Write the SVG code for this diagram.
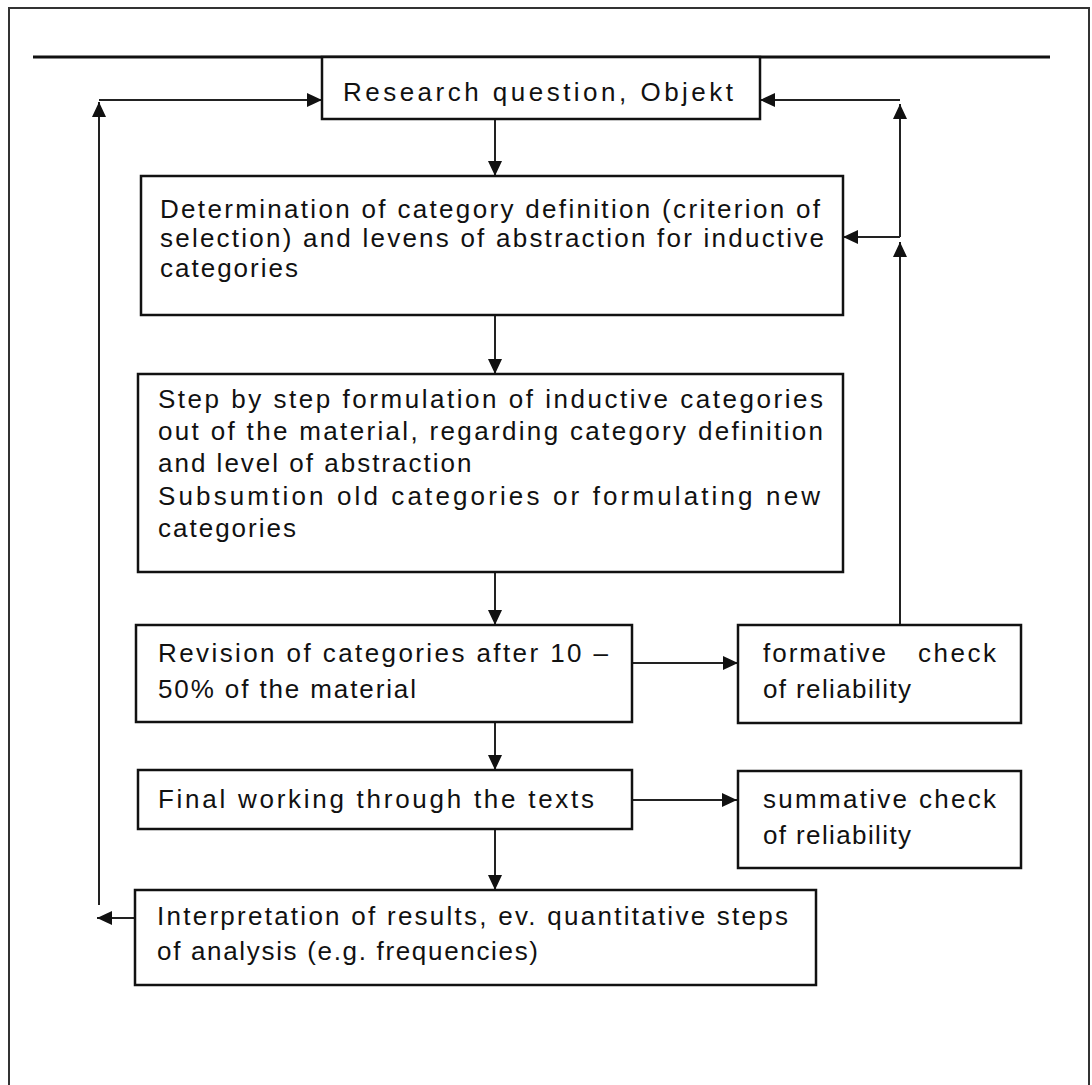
<svg xmlns="http://www.w3.org/2000/svg" width="1092" height="1085" viewBox="0 0 1092 1085">
  <defs>
    <style>
      .frame { fill: none; stroke: #333; stroke-width: 2; }
      .rule { stroke: #111; stroke-width: 3; }
      .box { fill: #fff; stroke: #111; stroke-width: 2.5; }
      .arrow { fill: none; stroke: #222; stroke-width: 2; marker-end: url(#head); }
      .label { font-family: "Liberation Sans", Arial, sans-serif; font-size: 26px; letter-spacing: 2px; fill: #111; }
    </style>
    <marker id="head" markerUnits="userSpaceOnUse" markerWidth="16" markerHeight="14" refX="15" refY="7" orient="auto">
      <path d="M0,0 L15,7 L0,14 z" fill="#111"/>
    </marker>
  </defs>

  <rect width="1092" height="1085" fill="#fff"/>

  <!-- page frame, open at the bottom -->
  <path class="frame" d="M9,1086 V8 H1089 V1086"/>
  <!-- heading rule -->
  <line class="rule" x1="33" y1="57" x2="1050" y2="57"/>

  <g id="connectors">
    <!-- main downward flow -->
    <line class="arrow" x1="495" y1="119" x2="495" y2="176"/>
    <line class="arrow" x1="495" y1="315" x2="495" y2="374"/>
    <line class="arrow" x1="495" y1="572" x2="495" y2="625"/>
    <line class="arrow" x1="495" y1="722" x2="495" y2="770"/>
    <line class="arrow" x1="495" y1="829" x2="495" y2="890"/>
    <!-- checks -->
    <line class="arrow" x1="632" y1="663" x2="738" y2="663"/>
    <line class="arrow" x1="632" y1="800" x2="737" y2="800"/>
    <!-- right feedback loop -->
    <line class="arrow" x1="900" y1="625" x2="900" y2="242"/>
    <line class="arrow" x1="900" y1="237" x2="900" y2="104"/>
    <line class="arrow" x1="900" y1="237" x2="843" y2="237"/>
    <line class="arrow" x1="900" y1="100" x2="760" y2="100"/>
    <!-- left feedback loop -->
    <line class="arrow" x1="135" y1="918" x2="97" y2="918"/>
    <line class="arrow" x1="99" y1="905" x2="99" y2="102"/>
    <line class="arrow" x1="99" y1="100" x2="322" y2="100"/>
  </g>

  <g id="research-question">
    <rect class="box" x="322" y="57" width="438" height="62"/>
    <text class="label" x="343" y="101" textLength="392" lengthAdjust="spacing">Research question, Objekt</text>
  </g>

  <g id="category-definition">
    <rect class="box" x="141" y="176" width="702" height="139"/>
    <text class="label" x="160" y="218" textLength="662" lengthAdjust="spacing">Determination of category definition (criterion of</text>
    <text class="label" x="160" y="247" textLength="666" lengthAdjust="spacing">selection) and levens of abstraction for inductive</text>
    <text class="label" x="160" y="277">categories</text>
  </g>

  <g id="formulation">
    <rect class="box" x="138" y="374" width="705" height="198"/>
    <text class="label" x="158" y="408" textLength="667" lengthAdjust="spacing">Step by step formulation of inductive categories</text>
    <text class="label" x="158" y="440" textLength="667" lengthAdjust="spacing">out of the material, regarding category definition</text>
    <text class="label" x="158" y="472">and level of abstraction</text>
    <text class="label" x="158" y="505" textLength="664" lengthAdjust="spacing">Subsumtion old categories or formulating new</text>
    <text class="label" x="158" y="537">categories</text>
  </g>

  <g id="revision">
    <rect class="box" x="136" y="625" width="496" height="97"/>
    <text class="label" x="158" y="662" textLength="452" lengthAdjust="spacing">Revision of categories after 10 –</text>
    <text class="label" x="158" y="698" textLength="260" lengthAdjust="spacing">50% of the material</text>
  </g>

  <g id="formative-check">
    <rect class="box" x="738" y="625" width="283" height="98"/>
    <text class="label" x="763" y="662">formative</text>
    <text class="label" x="998" y="662" text-anchor="end" letter-spacing="0" textLength="80" lengthAdjust="spacing">check</text>
    <text class="label" x="763" y="698" textLength="150" lengthAdjust="spacing">of reliability</text>
  </g>

  <g id="final-working">
    <rect class="box" x="138" y="770" width="494" height="59"/>
    <text class="label" x="158" y="808" textLength="438" lengthAdjust="spacing">Final working through the texts</text>
  </g>

  <g id="summative-check">
    <rect class="box" x="738" y="771" width="283" height="97"/>
    <text class="label" x="763" y="808" textLength="235" lengthAdjust="spacing">summative check</text>
    <text class="label" x="763" y="844" textLength="150" lengthAdjust="spacing">of reliability</text>
  </g>

  <g id="interpretation">
    <rect class="box" x="135" y="890" width="681" height="95"/>
    <text class="label" x="157" y="925" textLength="633" lengthAdjust="spacing">Interpretation of results, ev. quantitative steps</text>
    <text class="label" x="157" y="960" textLength="383" lengthAdjust="spacing">of analysis (e.g. frequencies)</text>
  </g>
</svg>
